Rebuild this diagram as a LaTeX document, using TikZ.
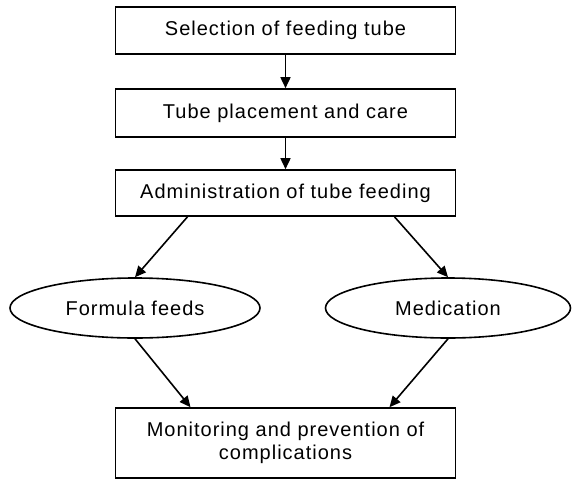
\documentclass[tikz,border=0pt]{standalone}
\usepackage{fontspec}
\setmainfont{Liberation Sans}[LetterSpace=5]
\usetikzlibrary{shapes.geometric,arrows.meta}
\begin{document}
\begin{tikzpicture}[x=1pt,y=-1pt,
  every node/.style={font=\fontsize{20}{22.5}\selectfont, inner sep=0pt},
  stepbox/.style={draw, line width=1.6pt, minimum width=340pt, align=center},
  oval/.style={draw, ellipse, line width=1.6pt, minimum height=60pt},
  conn/.style={line width=1.6pt, -{Triangle[length=11pt,width=10pt]}}]
\useasboundingbox (0,0) rectangle (572,479);
\node[stepbox, minimum height=47pt] (b1) at (285.5,30.5) {Selection of feeding tube};
\node[stepbox, minimum height=48pt] (b2) at (285.5,113) {Tube placement and care};
\node[stepbox, minimum height=46pt] (b3) at (285.5,193) {Administration of tube feeding};
\node[oval, minimum width=250pt] (e1) at (135,308) {Formula feeds};
\node[oval, minimum width=245pt] (e2) at (448,308) {Medication};
\node[stepbox, minimum height=70pt] (b4) at (285.5,443) {Monitoring and prevention of\\complications};
\draw[conn] (b1) -- (b2);
\draw[conn] (b2) -- (b3);
\draw[conn] ([xshift=-98pt]b3.south) -- (e1.north);
\draw[conn] ([xshift=109pt]b3.south) -- (e2.north);
\draw[conn] (e1.south) -- ([xshift=-95pt]b4.north);
\draw[conn] (e2.south) -- ([xshift=104pt]b4.north);
\end{tikzpicture}
\end{document}
